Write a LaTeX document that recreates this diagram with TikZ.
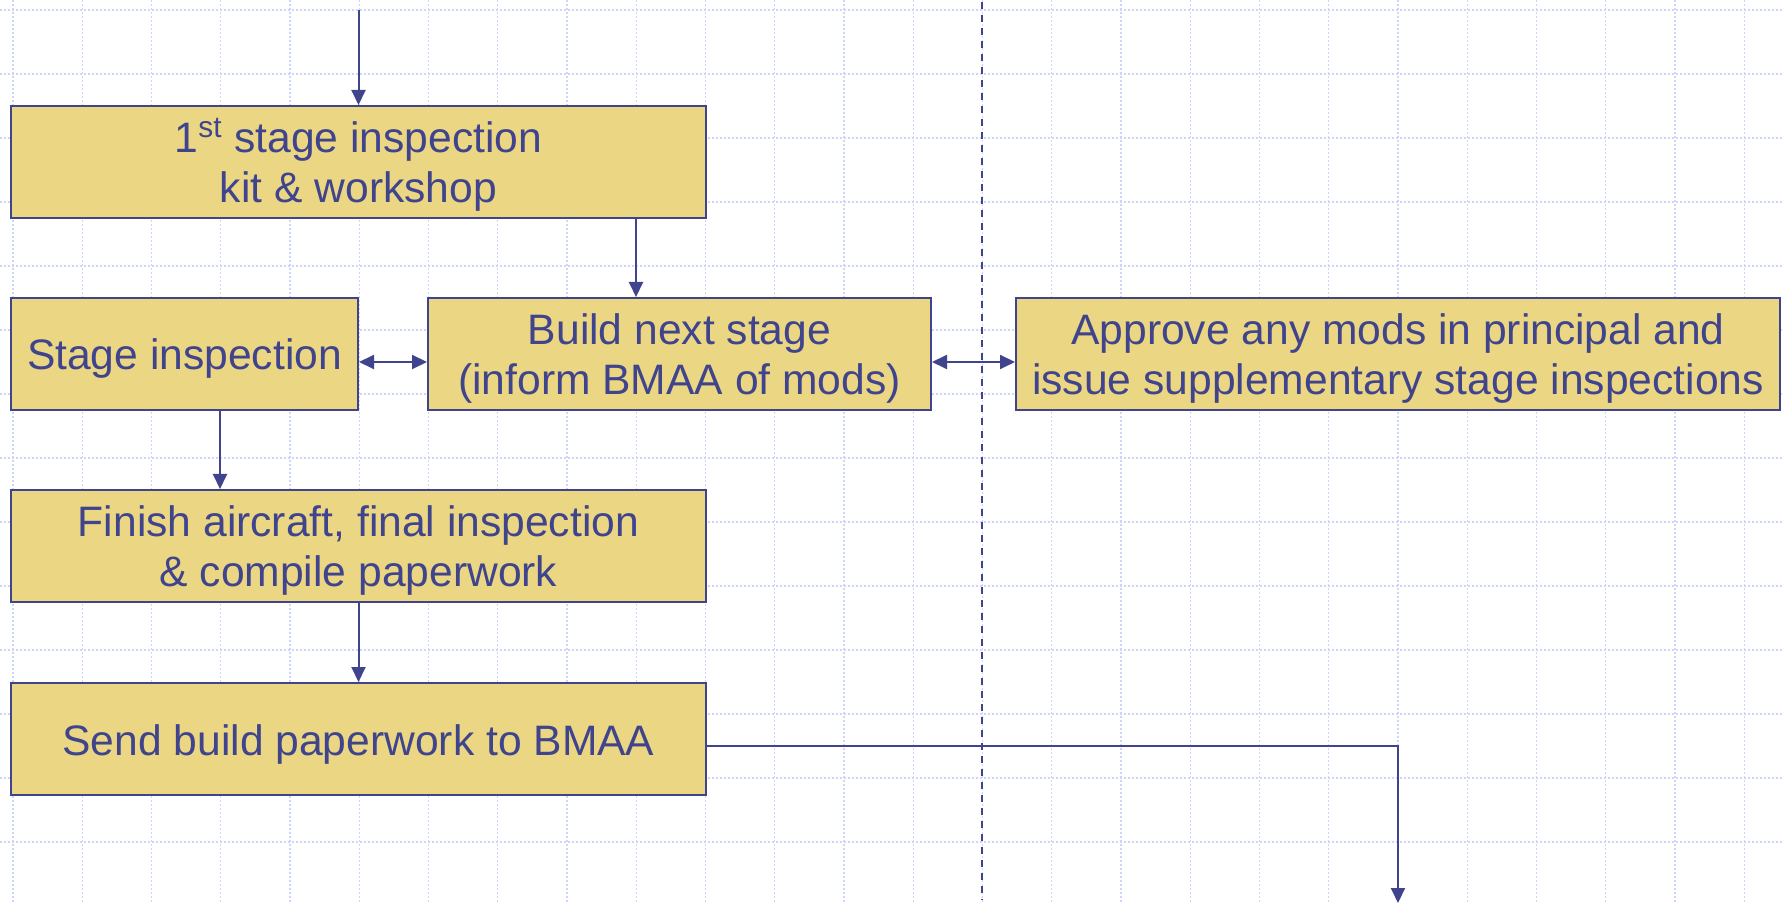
\documentclass[tikz,border=0pt]{standalone}
\usepackage{fontspec}
\setmainfont{Liberation Sans}
\usepackage{tikz}
\usetikzlibrary{arrows.meta}
\usetikzlibrary{calc}
\definecolor{inkblue}{RGB}{63,68,140}
\definecolor{boxyellow}{RGB}{235,214,131}
\definecolor{gridblue}{RGB}{203,214,249}
\newcommand{\boxtext}[1]{\raisebox{0pt}[\dimexpr\height+6pt\relax][\depth]{\begin{tabular}{@{}c@{}}#1\end{tabular}}}

\begin{document}
\begin{tikzpicture}[x=0.5pt, y=-0.5pt, line width=1pt, inkblue]
\tikzset{box/.style={draw=inkblue, fill=boxyellow, text=inkblue, inner sep=0pt, minimum height=56pt, font=\fontsize{21.3}{25}\selectfont}}
\tikzstyle{pointer} = [-{Triangle[length=7.5pt,width=7pt]}]
\tikzstyle{twoway} = [{Triangle[length=7.5pt,width=7pt]}-{Triangle[length=7.5pt,width=7pt]}]
\tikzstyle{gridline} = [gridblue, line width=0.6pt, dash pattern=on 1pt off 1pt]
\useasboundingbox (0,0) rectangle (1784,903);
\fill[white] (0,0) rectangle (1784,903);

\foreach \i in {0,...,25}
  \draw[gridline] ({13+69.25*\i},0) -- ({13+69.25*\i},903);
\foreach \j in {0,...,13}
  \draw[gridline] (0,{10+64*\j}) -- (1784,{10+64*\j});

\coordinate (v1) at (982,2);
\coordinate (v2) at (982,900);
\draw[inkblue, line width=0.8pt, dash pattern=on 3.5pt off 3pt] (v1) -- (v2);

\node[box, minimum width=347.5pt] (kit) at (358.5,162) {\boxtext{1\textsuperscript{st} stage inspection\\kit \& workshop}};
\node[box, minimum width=173.5pt] (stage) at (184.5,354) {\boxtext{Stage inspection}};
\node[box, minimum width=251.5pt] (build) at (679.5,354) {\boxtext{Build next stage\\(inform BMAA of mods)}};
\node[box, minimum width=382pt] (approve) at (1398,354) {\boxtext{Approve any mods in principal and\\issue supplementary stage inspections}};
\node[box, minimum width=347.5pt] (finish) at (358.5,546) {\boxtext{Finish aircraft, final inspection\\\& compile paperwork}};
\node[box, minimum width=347.5pt] (send) at (358.5,739) {\boxtext{Send build paperwork to BMAA}};

\coordinate (in) at (358.5,10);
\coordinate (out) at (1398,903);
\draw[pointer] (in) -- (kit.north);
\draw[pointer] (kit.south -| 636,0) -- (build.north -| 636,0);
\draw[twoway] ([yshift=-4pt]stage.east) -- ([yshift=-4pt]build.west);
\draw[twoway] ([yshift=-4pt]build.east) -- ([yshift=-4pt]approve.west);
\draw[pointer] (stage.south -| 220,0) -- (finish.north -| 220,0);
\draw[pointer] (finish.south) -- (send.north);
\draw[pointer] ([yshift=-3.5pt]send.east) -| (out);
\end{tikzpicture}
\end{document}
